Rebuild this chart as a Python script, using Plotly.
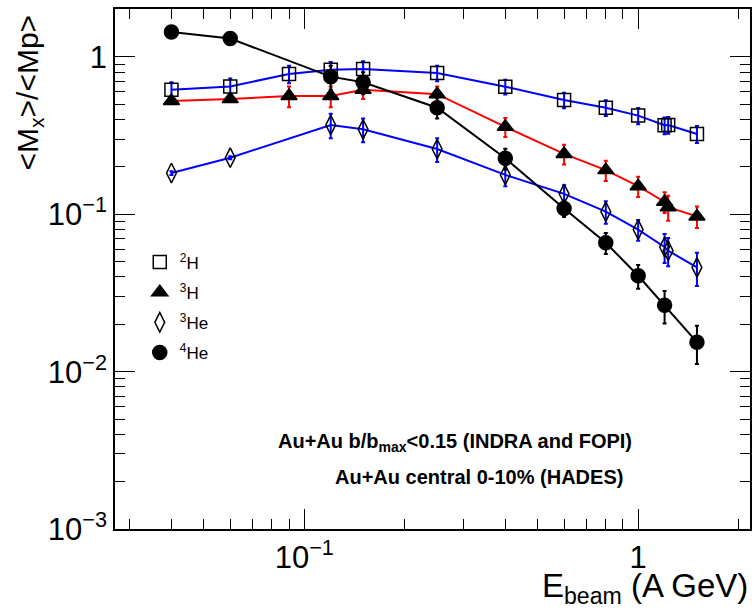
import plotly.graph_objects as go

# Beam energies (A GeV)
x_h2 = [0.04, 0.06, 0.09, 0.12, 0.15, 0.25, 0.4, 0.6, 0.8, 1.0, 1.2, 1.23, 1.5]
y_h2 = [0.62, 0.65, 0.78, 0.83, 0.84, 0.79, 0.647, 0.533, 0.476, 0.424, 0.368, 0.37, 0.324]
e_h2 = [0.07, 0.08, 0.10, 0.10, 0.10, 0.09, 0.07, 0.06, 0.055, 0.05, 0.045, 0.045, 0.04]

x_h3 = [0.04, 0.06, 0.09, 0.12, 0.15, 0.25, 0.4, 0.6, 0.8, 1.0, 1.2, 1.23, 1.5]
y_h3 = [0.525, 0.54, 0.565, 0.565, 0.62, 0.58, 0.36, 0.242, 0.191, 0.151, 0.12, 0.111, 0.097]
e_h3 = [0.02, 0.02, 0.085, 0.085, 0.08, 0.07, 0.05, 0.035, 0.028, 0.022, 0.018, 0.02, 0.015]

x_he3 = [0.04, 0.06, 0.12, 0.15, 0.25, 0.4, 0.6, 0.8, 1.0, 1.2, 1.23, 1.5]
y_he3 = [0.183, 0.229, 0.37, 0.347, 0.26, 0.178, 0.135, 0.104, 0.080, 0.062, 0.0587, 0.046]
e_he3 = [0.005, 0.005, 0.065, 0.06, 0.045, 0.027, 0.018, 0.017, 0.012, 0.013, 0.012, 0.011]

x_he4 = [0.04, 0.06, 0.12, 0.15, 0.25, 0.4, 0.6, 0.8, 1.0, 1.2, 1.5]
y_he4 = [1.44, 1.31, 0.75, 0.69, 0.476, 0.227, 0.109, 0.066, 0.0407, 0.0264, 0.0154]
e_he4 = [0.0, 0.0, 0.13, 0.11, 0.07, 0.034, 0.013, 0.010, 0.007, 0.0062, 0.0042]

labels = ["<sup>2</sup>H", "<sup>3</sup>H", "<sup>3</sup>He", "<sup>4</sup>He"]

# all tick positions (short ticks) with labels at decades
x_tickvals = [0.03, 0.04, 0.05, 0.06, 0.07, 0.08, 0.09, 0.1,
              0.2, 0.3, 0.4, 0.5, 0.6, 0.7, 0.8, 0.9, 1.0, 2.0]
x_ticktext = ["", "", "", "", "", "", "", "10<sup>\u22121</sup>",
              "", "", "", "", "", "", "", "", "1", ""]
y_tickvals = [0.001, 0.002, 0.003, 0.004, 0.005, 0.006, 0.007, 0.008, 0.009,
              0.01, 0.02, 0.03, 0.04, 0.05, 0.06, 0.07, 0.08, 0.09,
              0.1, 0.2, 0.3, 0.4, 0.5, 0.6, 0.7, 0.8, 0.9, 1.0]
y_ticktext = ["10<sup>\u22123</sup>", "", "", "", "", "", "", "", "",
              "10<sup>\u22122</sup>", "", "", "", "", "", "", "", "",
              "10<sup>\u22121</sup>", "", "", "", "", "", "", "", "", "1"]
# decade positions (long ticks)
x_major = [0.1, 1.0]
y_major = [0.001, 0.01, 0.1, 1.0]

FONT = "Liberation Sans, Arial, Helvetica, sans-serif"
X_RANGE = [-1.567, 0.335]
Y_RANGE = [-3, 0.305]

series = [
    (x_h2, y_h2, e_h2, "blue", "blue", "square-open", 13),
    (x_h3, y_h3, e_h3, "red", "red", "triangle-up", 14),
    (x_he3, y_he3, e_he3, "blue", "blue", "diamond-tall-open", 14),
    (x_he4, y_he4, e_he4, "black", "black", "circle", 14),
]

fig = go.Figure()
for (xs, ys, es, lc, ec, sym, sz) in series:
    fig.add_trace(go.Scatter(
        x=xs, y=ys, mode="lines+markers",
        line=dict(color=lc, width=2),
        marker=dict(symbol=sym, size=sz, color="black", line=dict(color="black", width=1.5)),
        error_y=dict(type="data", array=es, visible=True, color=ec, thickness=2, width=2),
        showlegend=False,
    ))

# legend-only entries (markers only)
for i, (xs, ys, es, lc, ec, sym, sz) in enumerate(series):
    fig.add_trace(go.Scatter(
        x=[None], y=[None], mode="markers", name=labels[i],
        marker=dict(symbol=sym, size=sz, color="black", line=dict(color="black", width=1.5)),
        legendgroup="g%d" % i, showlegend=True,
    ))

# empty traces to activate the long-tick overlay axes
fig.add_trace(go.Scatter(x=[None], y=[None], xaxis="x2", yaxis="y2",
                         showlegend=False, hoverinfo="skip"))
fig.add_trace(go.Scatter(x=[None], y=[None], xaxis="x2", yaxis="y",
                         showlegend=False, hoverinfo="skip"))

axis_common = dict(
    type="log", showline=True, linecolor="black", linewidth=1.5, mirror="ticks",
    ticks="inside", ticklen=10, tickwidth=1, tickcolor="black", tickmode="array",
    showgrid=False, zeroline=False, automargin=False,
    tickfont=dict(family=FONT, size=31, color="black"),
)
major_common = dict(
    type="log", showline=False, mirror="ticks", ticks="inside", ticklen=20,
    tickwidth=1, tickcolor="black", tickmode="array", showticklabels=False,
    showgrid=False, zeroline=False, automargin=False,
)

fig.update_layout(
    xaxis=dict(range=X_RANGE, tickvals=x_tickvals, ticktext=x_ticktext, **axis_common),
    yaxis=dict(range=Y_RANGE, tickvals=y_tickvals, ticktext=y_ticktext, **axis_common),
    xaxis2=dict(range=X_RANGE, tickvals=x_major, overlaying="x", anchor="y", side="bottom", **major_common),
    yaxis2=dict(range=Y_RANGE, tickvals=y_major, overlaying="y", anchor="x", side="left", **major_common),
)

fig.add_annotation(xref="paper", yref="paper", x=1.0, y=-0.158, xanchor="right", yanchor="bottom",
                   text="E<sub>beam</sub> (A GeV)", showarrow=False,
                   font=dict(family=FONT, size=33, color="black"))
fig.add_annotation(xref="paper", yref="paper", x=-0.135, y=0.84, xanchor="center", yanchor="middle",
                   text="&lt;M<sub>x</sub>&gt;/&lt;Mp&gt;", textangle=-90, showarrow=False,
                   font=dict(family=FONT, size=30, color="black"))
fig.add_annotation(xref="paper", yref="paper", x=0.535, y=0.167, xanchor="center", yanchor="middle",
                   text="<b>Au+Au b/b<sub>max</sub>&lt;0.15 (INDRA and FOPI)</b>", showarrow=False,
                   font=dict(family=FONT, size=20, color="black"))
fig.add_annotation(xref="paper", yref="paper", x=0.803, y=0.10, xanchor="right", yanchor="middle",
                   text="<b>Au+Au central 0-10% (HADES)</b>", showarrow=False,
                   font=dict(family=FONT, size=20, color="black"))

fig.update_layout(
    width=754, height=613,
    margin=dict(l=115, r=4, t=9, b=84),
    paper_bgcolor="white", plot_bgcolor="white",
    font=dict(family=FONT, color="black"),
    legend=dict(x=0.039, y=0.547, xanchor="left", yanchor="top",
                bgcolor="rgba(0,0,0,0)", font=dict(family=FONT, size=17),
                tracegroupgap=5, itemwidth=30),
)

fig.write_html("out.html", config={"displayModeBar": False},
               post_script="document.body.style.margin='0';document.body.style.overflow='hidden';")
